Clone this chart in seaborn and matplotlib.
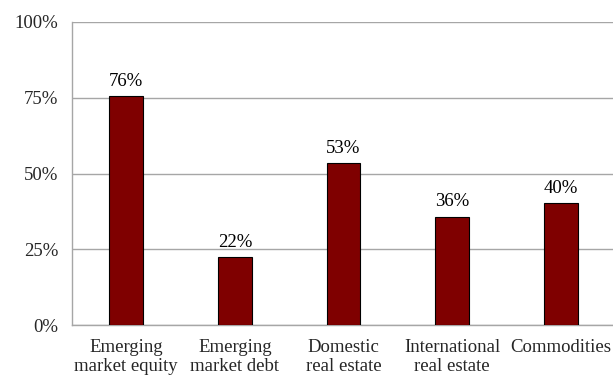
import matplotlib
matplotlib.use("Agg")
import matplotlib.pyplot as plt
import seaborn as sns
import pandas as pd
import numpy as np
from matplotlib.ticker import PercentFormatter

categories = ["Emerging\nmarket equity", "Emerging\nmarket debt", "Domestic\nreal estate",
              "International\nreal estate", "Commodities"]
values = [0.757, 0.223, 0.535, 0.358, 0.402]
labels = ["76%", "22%", "53%", "36%", "40%"]
yticks = [0, 0.25, 0.5, 0.75, 1.0]

sns.set_style("white")
plt.rcParams['font.family'] = ['Liberation Serif', 'DejaVu Serif']

fig = plt.figure(figsize=(6.13, 3.77), dpi=100)
W, H = 613, 377
ax = fig.add_axes([72 / W, (H - 325) / H, 543 / W, 303 / H])

df = pd.DataFrame({"cat": categories, "val": values})
sns.barplot(data=df, x="cat", y="val", color="#7f0000", width=0.31,
            edgecolor="black", linewidth=0.8, saturation=1, ax=ax, zorder=3)

FS = 13.5
for i, (v, lab) in enumerate(zip(values, labels)):
    ax.text(i, v + 0.02, lab, ha="center", va="bottom", fontsize=FS, color="black")

ax.set_ylim(0, 1)
ax.set_xlim(-0.5, 4.5)
ax.set_yticks(yticks)
ax.yaxis.set_major_formatter(PercentFormatter(1.0, decimals=0))
ax.grid(axis="y", color="#a6a6a6", linewidth=1.0, zorder=0)
ax.set_axisbelow(True)

ax.set_xticks(range(len(categories)))
ax.set_xticklabels(categories, fontsize=FS, linespacing=1.2)
ax.set_xticks(np.arange(-0.5, len(categories), 1.0), minor=True)
ax.tick_params(axis="x", which="major", length=0, pad=10)
ax.tick_params(axis="x", which="minor", length=5, color="#a6a6a6", width=1.0, direction="out")
ax.tick_params(axis="y", length=6, color="#a6a6a6", width=1.0, direction="out", labelsize=FS, pad=4)

for s in ["top", "right"]:
    ax.spines[s].set_visible(False)
for s in ["left", "bottom"]:
    ax.spines[s].set_color("#a6a6a6")
    ax.spines[s].set_linewidth(1.0)

ax.set_xlabel("")
ax.set_ylabel("")

fig.savefig("out.png", dpi=100)
